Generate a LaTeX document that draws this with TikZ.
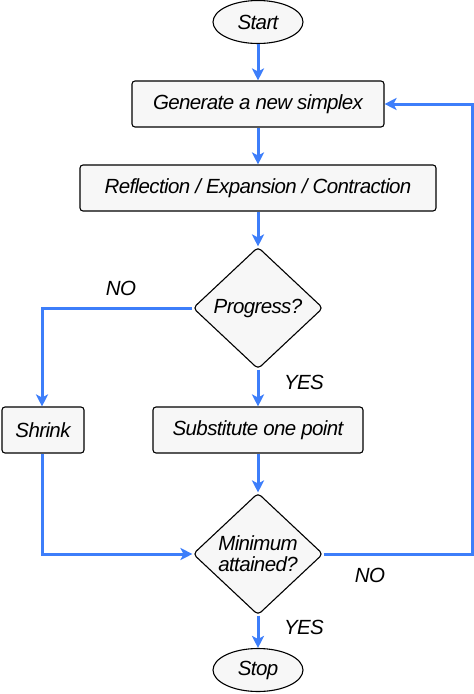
\documentclass[tikz,border=0pt]{standalone}
\usepackage{fontspec}
\setmainfont[LetterSpace=-3]{Liberation Sans}
\usetikzlibrary{shapes.geometric, arrows.meta}

\begin{document}
\begin{tikzpicture}[x=1pt,y=-1pt,
    font=\fontsize{20.5}{21}\selectfont\itshape,
    flowbox/.style={draw=black,line width=1.1pt,fill=gray!6,rounded corners=3pt,minimum height=46pt,inner sep=0pt},
    terminal/.style={draw=black,line width=1.1pt,fill=gray!6,ellipse,minimum width=90pt,minimum height=43pt,inner sep=0pt},
    decision/.style={draw=black,line width=1.1pt,fill=gray!6,diamond,rounded corners=4pt,minimum width=130pt,minimum height=122pt,inner sep=0pt,align=center},
    flow/.style={draw={rgb,255:red,61;green,126;blue,250},line width=3pt,-{Stealth[length=12pt,width=12pt,inset=3pt]}},
    answer/.style={text=black}]
\useasboundingbox (0,0) rectangle (474,694);
% Nodes of the chart
\node[terminal] (start) at (258,22) {Start};
\node[flowbox,minimum width=252pt] (gen) at (258,104) {Generate a new simplex};
\node[flowbox,minimum width=356pt] (ref) at (258,188) {Reflection / Expansion / Contraction};
\node[decision] (prog) at (258,308) {Progress?};
\node[flowbox,minimum width=82pt] (shrink) at (43,430) {Shrink};
\node[flowbox,minimum width=210pt] (subst) at (258,430) {Substitute one point};
\node[decision] (mini) at (258,554) {Minimum\\attained?};
\node[terminal] (stop) at (258,670) {Stop};
% Corners of the side paths
\coordinate (noleft) at (42,308);
\coordinate (shrinkdown) at (42,554);
\coordinate (noright) at (472,554);
\coordinate (backtop) at (472,104);
% Straight connectors
\draw[flow] (start) -- (gen);
\draw[flow] (gen) -- (ref);
\draw[flow] (ref) -- (prog);
\draw[flow] (prog) -- (subst);
\draw[flow] (subst) -- (mini);
\draw[flow] (mini) -- (stop);
% Side paths
\draw[flow] (prog.west) -- (noleft) -- (shrink.north -| noleft);
\draw[flow] (shrink.south -| shrinkdown) -- (shrinkdown) -- (mini.west);
\draw[flow] (mini.east) -- (noright) -- (backtop) -- (gen.east);
% Labels of the answers
\node[answer] (noa) at (121,288) {NO};
\node[answer] (yesa) at (304,382) {YES};
\node[answer] (nob) at (370,575) {NO};
\node[answer] (yesb) at (304,627) {YES};
\end{tikzpicture}
\end{document}
